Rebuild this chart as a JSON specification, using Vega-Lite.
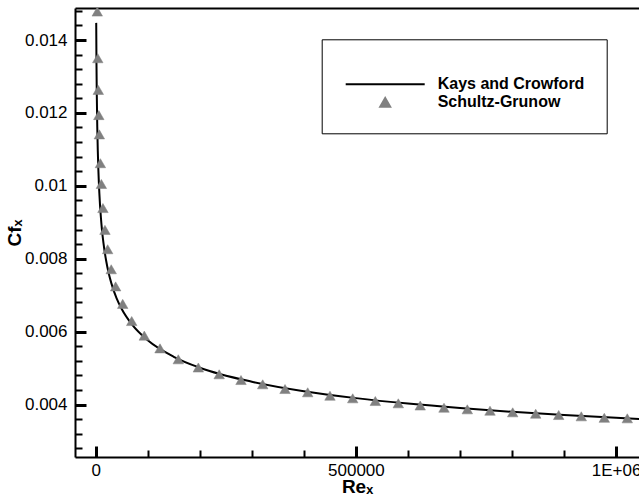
{
  "$schema": "https://vega.github.io/schema/vega-lite/v6.json",
  "width": 564,
  "height": 449,
  "autosize": {"type": "none"},
  "padding": {"left": 75, "top": 8, "right": 0, "bottom": 45},
  "config": {
    "view": {"stroke": null},
    "font": "Liberation Sans",
    "axis": {
      "domainColor": "black", "domainWidth": 2,
      "labelColor": "black", "labelFont": "Liberation Sans", "labelFontSize": 17,
      "titleColor": "black", "titleFont": "Liberation Sans", "titleFontSize": 19, "titleFontWeight": "bold",
      "grid": false, "labelFlush": false, "labelOverlap": false, "labelBound": false
    }
  },
  "data": {
    "values": [
      {"series": "Kays and Crowford", "Re": 1000, "Cf": 0.01447},
      {"series": "Kays and Crowford", "Re": 1500, "Cf": 0.01334},
      {"series": "Kays and Crowford", "Re": 2000, "Cf": 0.0126},
      {"series": "Kays and Crowford", "Re": 3000, "Cf": 0.01162},
      {"series": "Kays and Crowford", "Re": 4000, "Cf": 0.01097},
      {"series": "Kays and Crowford", "Re": 5000, "Cf": 0.01049},
      {"series": "Kays and Crowford", "Re": 7000, "Cf": 0.0098},
      {"series": "Kays and Crowford", "Re": 10000, "Cf": 0.00913},
      {"series": "Kays and Crowford", "Re": 12000, "Cf": 0.0088},
      {"series": "Kays and Crowford", "Re": 15000, "Cf": 0.00842},
      {"series": "Kays and Crowford", "Re": 20000, "Cf": 0.00795},
      {"series": "Kays and Crowford", "Re": 25000, "Cf": 0.0076},
      {"series": "Kays and Crowford", "Re": 30000, "Cf": 0.00733},
      {"series": "Kays and Crowford", "Re": 40000, "Cf": 0.00692},
      {"series": "Kays and Crowford", "Re": 50000, "Cf": 0.00662},
      {"series": "Kays and Crowford", "Re": 70000, "Cf": 0.00619},
      {"series": "Kays and Crowford", "Re": 100000, "Cf": 0.00576},
      {"series": "Kays and Crowford", "Re": 150000, "Cf": 0.00531},
      {"series": "Kays and Crowford", "Re": 200000, "Cf": 0.00501},
      {"series": "Kays and Crowford", "Re": 300000, "Cf": 0.004625},
      {"series": "Kays and Crowford", "Re": 400000, "Cf": 0.004365},
      {"series": "Kays and Crowford", "Re": 500000, "Cf": 0.004175},
      {"series": "Kays and Crowford", "Re": 600000, "Cf": 0.004025},
      {"series": "Kays and Crowford", "Re": 700000, "Cf": 0.003903},
      {"series": "Kays and Crowford", "Re": 800000, "Cf": 0.0038},
      {"series": "Kays and Crowford", "Re": 900000, "Cf": 0.003712},
      {"series": "Kays and Crowford", "Re": 1000000, "Cf": 0.003634},
      {"series": "Kays and Crowford", "Re": 1050000, "Cf": 0.003599},
      {"series": "Schultz-Grunow", "Re": 3000, "Cf": 0.01478},
      {"series": "Schultz-Grunow", "Re": 4000, "Cf": 0.0135},
      {"series": "Schultz-Grunow", "Re": 5000, "Cf": 0.01263},
      {"series": "Schultz-Grunow", "Re": 6000, "Cf": 0.01194},
      {"series": "Schultz-Grunow", "Re": 7000, "Cf": 0.01141},
      {"series": "Schultz-Grunow", "Re": 9000, "Cf": 0.01062},
      {"series": "Schultz-Grunow", "Re": 10900, "Cf": 0.01005},
      {"series": "Schultz-Grunow", "Re": 13900, "Cf": 0.00939},
      {"series": "Schultz-Grunow", "Re": 17800, "Cf": 0.00879},
      {"series": "Schultz-Grunow", "Re": 23000, "Cf": 0.00826},
      {"series": "Schultz-Grunow", "Re": 29800, "Cf": 0.00771},
      {"series": "Schultz-Grunow", "Re": 38300, "Cf": 0.00724},
      {"series": "Schultz-Grunow", "Re": 51900, "Cf": 0.00676},
      {"series": "Schultz-Grunow", "Re": 69200, "Cf": 0.00629},
      {"series": "Schultz-Grunow", "Re": 93400, "Cf": 0.00589},
      {"series": "Schultz-Grunow", "Re": 123600, "Cf": 0.00554},
      {"series": "Schultz-Grunow", "Re": 158700, "Cf": 0.00524},
      {"series": "Schultz-Grunow", "Re": 197200, "Cf": 0.005015},
      {"series": "Schultz-Grunow", "Re": 237300, "Cf": 0.004829},
      {"series": "Schultz-Grunow", "Re": 279200, "Cf": 0.004672},
      {"series": "Schultz-Grunow", "Re": 320900, "Cf": 0.004554},
      {"series": "Schultz-Grunow", "Re": 363800, "Cf": 0.004425},
      {"series": "Schultz-Grunow", "Re": 407400, "Cf": 0.004335},
      {"series": "Schultz-Grunow", "Re": 450200, "Cf": 0.004241},
      {"series": "Schultz-Grunow", "Re": 493900, "Cf": 0.00417},
      {"series": "Schultz-Grunow", "Re": 537300, "Cf": 0.004096},
      {"series": "Schultz-Grunow", "Re": 581500, "Cf": 0.004033},
      {"series": "Schultz-Grunow", "Re": 623600, "Cf": 0.003972},
      {"series": "Schultz-Grunow", "Re": 669300, "Cf": 0.003912},
      {"series": "Schultz-Grunow", "Re": 714100, "Cf": 0.003868},
      {"series": "Schultz-Grunow", "Re": 757700, "Cf": 0.00383},
      {"series": "Schultz-Grunow", "Re": 801300, "Cf": 0.003786},
      {"series": "Schultz-Grunow", "Re": 845500, "Cf": 0.003748},
      {"series": "Schultz-Grunow", "Re": 889700, "Cf": 0.003712},
      {"series": "Schultz-Grunow", "Re": 933100, "Cf": 0.003676},
      {"series": "Schultz-Grunow", "Re": 977300, "Cf": 0.003635},
      {"series": "Schultz-Grunow", "Re": 1021500, "Cf": 0.003621}
    ]
  },
  "layer": [
    {
      "transform": [{"filter": "datum.series === 'Kays and Crowford'"}],
      "mark": {"type": "line", "color": "black", "strokeWidth": 2, "interpolate": "monotone"},
      "encoding": {
        "x": {
          "field": "Re", "type": "quantitative",
          "scale": {"domain": [-39780, 1044000], "nice": false, "zero": false},
          "axis": {
            "orient": "bottom",
            "values": [0, 500000, 1000000],
            "labelExpr": "datum.value == 1000000 ? '1E+06' : format(datum.value, 'd')",
            "tickColor": "#000000", "tickSize": -11, "tickWidth": 3,
            "labelPadding": 16,
            "title": "Reₓ",
            "titlePadding": -1
          }
        },
        "y": {
          "field": "Cf", "type": "quantitative",
          "scale": {"domain": [0.00256, 0.014878], "nice": false, "zero": false},
          "axis": {
            "orient": "left",
            "values": [0.004, 0.006, 0.008, 0.01, 0.012, 0.014],
            "labelExpr": "format(datum.value, '~g')",
            "tickColor": "#000000", "tickSize": -11, "tickWidth": 3,
            "labelPadding": 19,
            "title": "Cfₓ",
            "titlePadding": 0
          }
        }
      }
    },
    {
      "transform": [{"filter": "datum.series === 'Schultz-Grunow'"}],
      "mark": {"type": "point", "filled": false, "fill": "#808080", "fillOpacity": 1, "strokeWidth": 0.5, "opacity": 1, "size": 110},
      "encoding": {
        "x": {
          "field": "Re", "type": "quantitative",
          "axis": {
            "orient": "bottom",
            "values": [100000, 200000, 300000, 400000, 600000, 700000, 800000, 900000],
            "tickColor": "#000000", "tickSize": -7, "tickWidth": 2, "labels": false, "domain": false, "title": null
          }
        },
        "y": {
          "field": "Cf", "type": "quantitative",
          "axis": {
            "orient": "left",
            "values": [0.0028, 0.0032, 0.0036, 0.0044, 0.0048, 0.0052, 0.0056, 0.0064, 0.0068, 0.0072, 0.0076, 0.0084, 0.0088, 0.0092, 0.0096, 0.0104, 0.0108, 0.0112, 0.0116, 0.0124, 0.0128, 0.0132, 0.0136, 0.0144, 0.0148],
            "tickColor": "#000000", "tickSize": -7, "tickWidth": 2, "labels": false, "domain": false, "title": null
          }
        },
        "color": {
          "field": "series", "type": "nominal",
          "scale": {"domain": ["Kays and Crowford", "Schultz-Grunow"], "range": ["black", "#808080"]}
        },
        "shape": {
          "field": "series", "type": "nominal",
          "scale": {"domain": ["Kays and Crowford", "Schultz-Grunow"], "range": ["M-7.9,0H7.9", "triangle-up"]},
          "legend": {
            "orient": "none", "legendX": 246.7, "legendY": 31.3,
            "title": " ", "titleFontSize": 4, "titlePadding": 11,
            "padding": 22, "fillColor": "white", "strokeColor": "black",
            "labelFont": "Liberation Sans", "labelFontSize": 16, "labelFontWeight": "bold", "labelColor": "black",
            "labelExpr": "datum.label + '\u00a0\u00a0\u00a0'", "labelLimit": 400,
            "symbolSize": 100, "symbolStrokeWidth": 2, "symbolOffset": 33.5, "labelOffset": 44.5, "rowPadding": 1,
            "encode": {
              "symbols": {
                "update": {
                  "stroke": {"signal": "datum.value === 'Kays and Crowford' ? 'black' : '#808080'"},
                  "fill": {"signal": "datum.value === 'Kays and Crowford' ? 'transparent' : '#808080'"},
                  "strokeWidth": {"signal": "datum.value === 'Kays and Crowford' ? 2 : 0.5"},
                  "opacity": {"value": 1}
                }
              }
            }
          }
        }
      }
    },
    {
      "transform": [{"filter": "datum.series === 'Kays and Crowford'"}],
      "mark": {"type": "line", "color": "black", "strokeWidth": 0, "opacity": 0},
      "encoding": {
        "x": {
          "field": "Re", "type": "quantitative",
          "axis": {"orient": "top", "ticks": false, "labels": false, "title": null, "domainColor": "black", "domainWidth": 2}
        },
        "y": {"field": "Cf", "type": "quantitative", "axis": null}
      }
    }
  ],
  "resolve": {"axis": {"x": "independent", "y": "independent"}}
}
